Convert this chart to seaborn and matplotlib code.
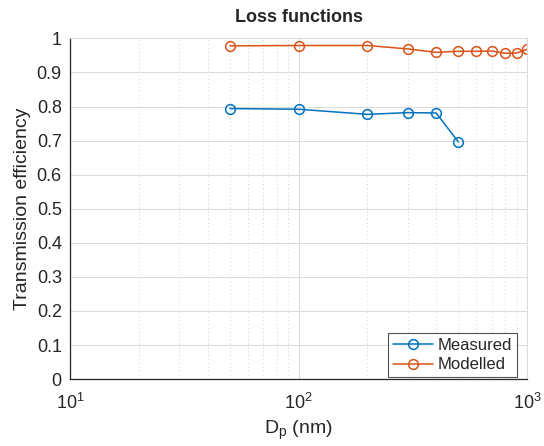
import numpy as np
import pandas as pd
import matplotlib
matplotlib.use("Agg")
import matplotlib.pyplot as plt
import seaborn as sns
from matplotlib.ticker import LogLocator, NullFormatter

# values
measured_dp = [50, 100, 200, 300, 400, 500]
measured_eff = [0.794, 0.792, 0.777, 0.782, 0.781, 0.696]
modelled_dp = [50, 100, 200, 300, 400, 500, 600, 700, 800, 900, 1000]
modelled_eff = [0.978, 0.979, 0.979, 0.969, 0.959, 0.962, 0.962, 0.963, 0.956, 0.957, 0.968]

blue = "#0072BD"
orange = "#D95319"

sns.set_style("white")
plt.rcParams['font.family'] = ['Liberation Sans', 'DejaVu Sans']

fig = plt.figure(figsize=(5.44, 4.46), dpi=100)
ax = fig.add_axes([0.129, 0.150, 0.840, 0.764])

df_meas = pd.DataFrame({"Dp": measured_dp, "eff": measured_eff})
df_mod = pd.DataFrame({"Dp": modelled_dp, "eff": modelled_eff})

sns.lineplot(data=df_meas, x="Dp", y="eff", ax=ax, color=blue, marker="o",
             markersize=7, mfc="none", mec=blue, mew=1.1, lw=1.1, label="Measured")
sns.lineplot(data=df_mod, x="Dp", y="eff", ax=ax, color=orange, marker="o",
             markersize=7, mfc="none", mec=orange, mew=1.1, lw=1.1, label="Modelled")

ax.set_xscale("log")
ax.set_xlim(10, 1000)
ax.set_ylim(0, 1)
ax.set_yticks(np.arange(0, 1.01, 0.1))
ax.set_yticklabels(["0", "0.1", "0.2", "0.3", "0.4", "0.5", "0.6", "0.7", "0.8", "0.9", "1"])
ax.xaxis.set_minor_locator(LogLocator(base=10, subs=np.arange(2, 10)))
ax.xaxis.set_minor_formatter(NullFormatter())

ax.grid(True, which="major", color="#dcdcdc", lw=0.8)
ax.grid(True, which="minor", axis="x", color="#d2d2d2", lw=0.7, ls=(0, (1, 3)))
ax.set_axisbelow(True)

for s in ["top", "right"]:
    ax.spines[s].set_color("#dcdcdc")
    ax.spines[s].set_linewidth(0.8)
for s in ["left", "bottom"]:
    ax.spines[s].set_color("#262626")
    ax.spines[s].set_linewidth(0.9)

ax.tick_params(axis="y", which="major", labelsize=13, colors="#262626",
               direction="in", length=4, width=0.8, pad=6)
ax.tick_params(axis="x", which="major", labelsize=13, colors="#262626",
               direction="in", length=4, width=0.8, pad=10)
ax.tick_params(axis="x", which="minor", direction="in", length=2, width=0.6, colors="#262626")

ax.set_xlabel("D$_\\mathregular{p}$ (nm)", fontsize=14, color="#262626", labelpad=4)
ax.set_ylabel("Transmission efficiency", fontsize=14, color="#262626", labelpad=4)
ax.set_title("Loss functions", fontsize=13, fontweight="bold", pad=12)

leg = ax.legend(loc="lower right", fontsize=12, handlelength=2.4, frameon=True,
                fancybox=False, edgecolor="#262626", borderaxespad=0.1,
                handletextpad=0.3, borderpad=0.3, labelspacing=0.25,
                bbox_to_anchor=(0.982, 0.0))
leg.get_frame().set_linewidth(0.8)

fig.savefig("out.png", dpi=100)
